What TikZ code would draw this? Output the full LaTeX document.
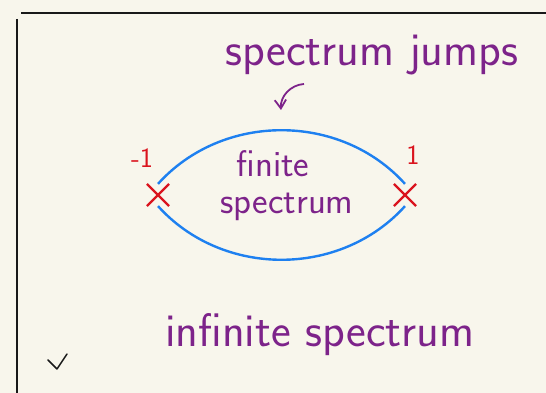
\documentclass[tikz,border=0pt]{standalone}
\usepackage{fontspec}
\usetikzlibrary{arrows.meta,shapes.misc}
\definecolor{paper}{RGB}{248,246,236}
\definecolor{inkpurple}{RGB}{125,35,138}
\definecolor{inkred}{RGB}{218,20,30}
\definecolor{inkblue}{RGB}{30,128,240}
\definecolor{inkblack}{RGB}{25,25,25}

\begin{document}
\begin{tikzpicture}[
  x=1pt,
  y=1pt,
  note/.style={
    text=inkpurple,
    inner sep=0pt,
    font=\sffamily\fontsize{37}{39}\selectfont
  },
  bignote/.style={note, font=\sffamily\fontsize{47}{49}\selectfont},
  polelabel/.style={text=inkred, inner sep=0pt, font=\sffamily\fontsize{28}{30}\selectfont},
  pole/.style={cross out, draw=inkred, line width=2.2pt, minimum size=20pt, inner sep=0pt},
  contour/.style={draw=inkblue, line width=2.4pt},
  rule/.style={draw=inkblack, line width=2.2pt},
  arrow/.style={-{Straight Barb[length=3mm,width=4mm]}, draw=inkpurple, line width=1.8pt}
]
% page
\fill[paper] (0,0) rectangle (546,393);
\useasboundingbox (0,0) rectangle (546,393);
\coordinate (topl) at (21,380);
\coordinate (topr) at (546,380);
\coordinate (leftt) at (17,374);
\coordinate (leftb) at (17,0);
\draw[rule] (topl) -- (topr);
\draw[rule] (leftt) -- (leftb);

% poles
\node[pole] (minus) at (158,198) {};
\node[pole] (plus) at (405,198) {};
\node[polelabel] (minuslbl) at (142,235) {-1};
\node[polelabel] (pluslbl) at (413,238) {1};

% contour
\draw[contour] (minus.north) to[out=48, in=132] (plus.north);
\draw[contour] (minus.south) to[out=-48, in=-132] (plus.south);

% labels
\node[note] (finite) at (273,229) {finite};
\node[note] (spec) at (287,186) {spectrum};
\node[bignote] (jumps) at (372,338) {spectrum jumps};
\node[bignote] (infinite) at (320,58) {infinite spectrum};

\coordinate (jumpfrom) at (304,309);
\coordinate (jumpto) at (281,283);
\draw[arrow] (jumpfrom) to[bend right=45] (jumpto);

% check mark
\coordinate (ck1) at (48,33);
\coordinate (ck2) at (57,24);
\coordinate (ck3) at (67,39);
\draw[inkblack, line width=1.5pt, line cap=round, line join=round] (ck1) -- (ck2) -- (ck3);
\end{tikzpicture}
\end{document}
